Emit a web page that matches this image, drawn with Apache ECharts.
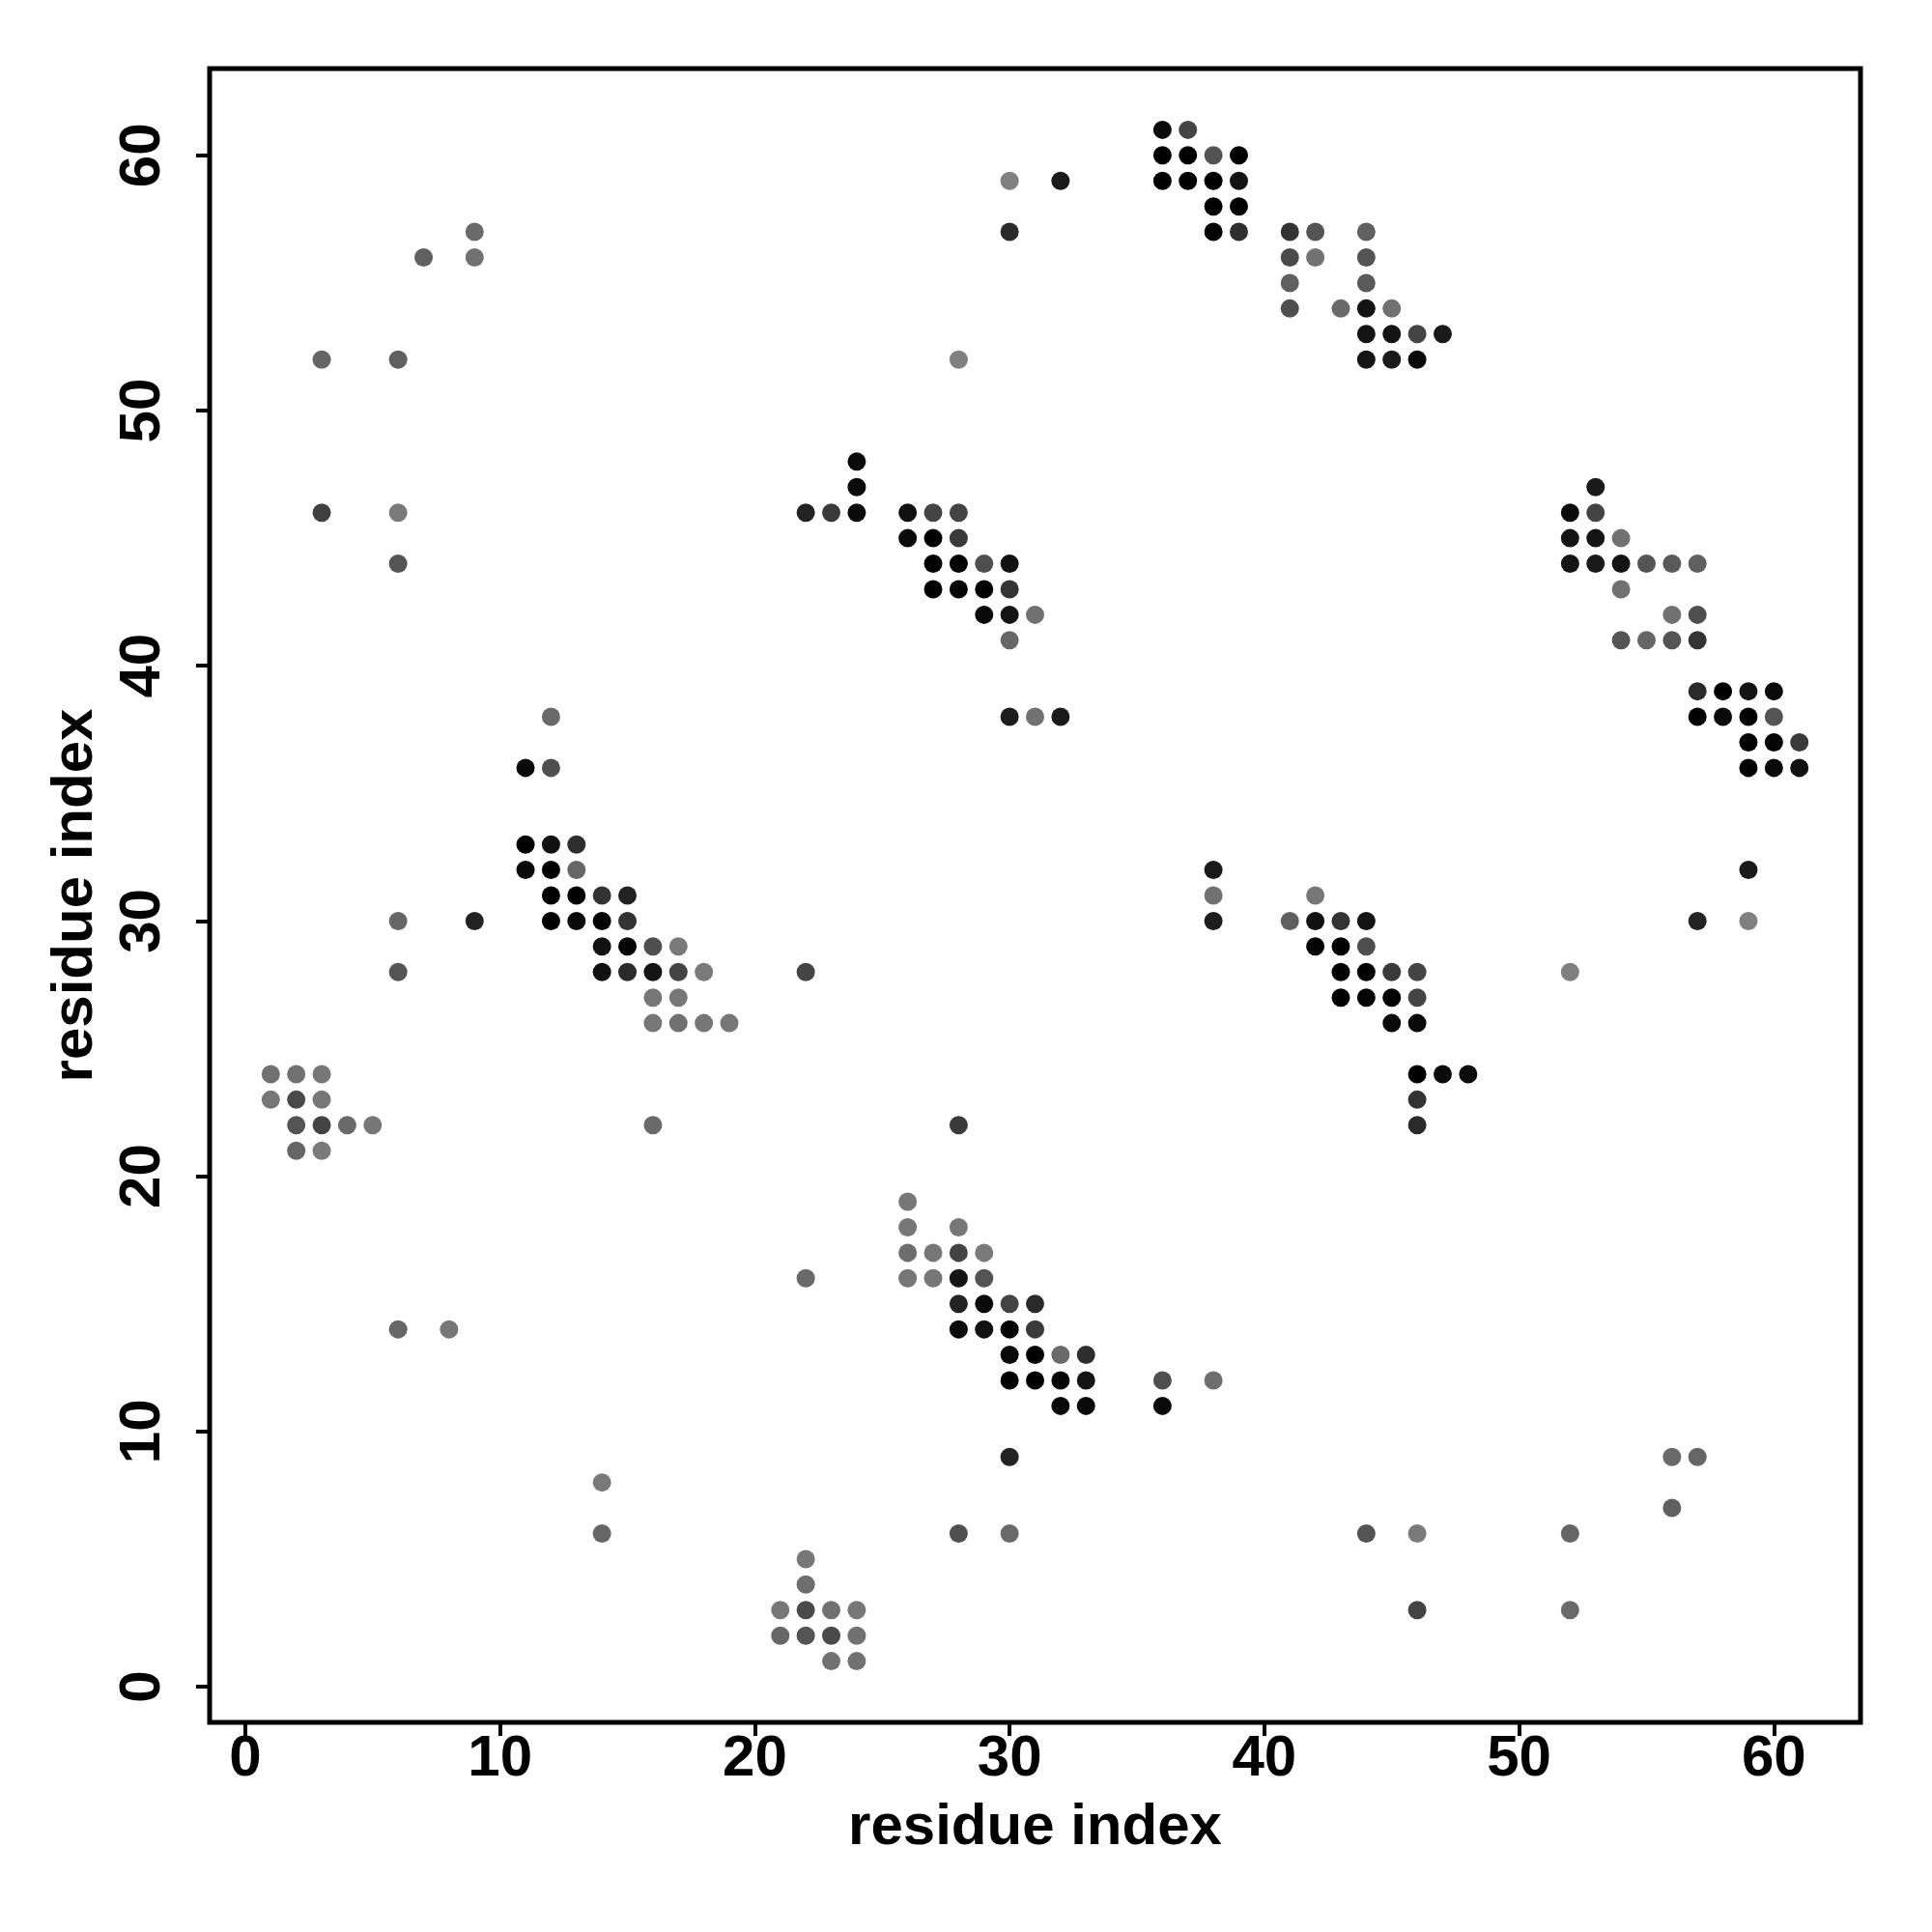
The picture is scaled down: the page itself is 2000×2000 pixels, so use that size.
<!DOCTYPE html>
<html>
<head>
<meta charset="utf-8">
<script src="https://cdn.jsdelivr.net/npm/echarts@6/dist/echarts.min.js"></script>
<style>
html,body{margin:0;padding:0;background:#fff;}
#chart{width:2000px;height:2000px;}
</style>
</head>
<body>
<div id="chart"></div>
<script>
// residue i (x), residue j (y), contact strength (darker = higher)
const resX = [
 36,37,
 36,37,38,39,
 30,32,36,37,38,39,
 38,39,
 9,30,38,39,41,42,44,
 7,9,41,42,44,
 41,44,
 41,43,44,45,
 44,45,46,47,
 3,6,28,44,45,46,
 24,
 24,53,
 3,6,22,23,24,26,27,28,52,53,
 26,27,28,52,53,54,
 6,27,28,29,30,52,53,54,55,56,57,
 27,28,29,30,54,
 29,30,31,56,57,
 30,54,55,56,57,
 57,58,59,60,
 12,30,31,32,57,58,59,60,
 59,60,61,
 11,12,59,60,61,
 11,12,13,
 11,12,13,38,59,
 12,13,14,15,38,42,
 6,9,12,13,14,15,38,41,42,43,44,57,59,
 14,15,16,17,42,43,44,
 6,14,15,16,17,18,22,43,44,45,46,52,
 16,17,43,44,45,46,
 16,17,18,19,45,46,
 1,2,3,46,47,48,
 1,2,3,46,
 2,3,4,5,16,28,46,
 2,3,
 26,
 26,28,
 26,27,28,29,
 22,26,27,28,29,
 28,29,30,31,
 6,8,28,29,30,31,
 30,31,32,33,
 30,31,32,33,36,38,
 32,33,36,
 30,56,57,
 14,
 56,
 14,28,30,44,46,52,
 22,
 22,
 21,22,23,24,46,52,
 21,22,23,24,
 23,24
];
const resY = [
 61,61,
 60,60,60,60,
 59,59,59,59,59,59,
 58,58,
 57,57,57,57,57,57,57,
 56,56,56,56,56,
 55,55,
 54,54,54,54,
 53,53,53,53,
 52,52,52,52,52,52,
 48,
 47,47,
 46,46,46,46,46,46,46,46,46,46,
 45,45,45,45,45,45,
 44,44,44,44,44,44,44,44,44,44,44,
 43,43,43,43,43,
 42,42,42,42,42,
 41,41,41,41,41,
 39,39,39,39,
 38,38,38,38,38,38,38,38,
 37,37,37,
 36,36,36,36,36,
 33,33,33,
 32,32,32,32,32,
 31,31,31,31,31,31,
 30,30,30,30,30,30,30,30,30,30,30,30,30,
 29,29,29,29,29,29,29,
 28,28,28,28,28,28,28,28,28,28,28,28,
 27,27,27,27,27,27,
 26,26,26,26,26,26,
 24,24,24,24,24,24,
 23,23,23,23,
 22,22,22,22,22,22,22,
 21,21,
 19,
 18,18,
 17,17,17,17,
 16,16,16,16,16,
 15,15,15,15,
 14,14,14,14,14,14,
 13,13,13,13,
 12,12,12,12,12,12,
 11,11,11,
 9,9,9,
 8,
 7,
 6,6,6,6,6,6,
 5,
 4,
 3,3,3,3,3,3,
 2,2,2,2,
 1,1
];
const strength = [
 0.92,0.47,
 1.0,1.0,0.34,1.0,
 0.0,0.80,1.0,1.0,1.0,0.84,
 1.0,1.0,
 0.17,0.67,1.0,0.64,0.60,0.34,0.25,
 0.25,0.12,0.42,0.12,0.34,
 0.25,0.30,
 0.38,0.17,0.84,0.12,
 0.84,0.84,0.47,0.80,
 0.21,0.25,0.0,0.84,0.80,0.92,
 0.92,
 0.92,0.80,
 0.50,0.05,0.73,0.55,0.92,0.87,0.47,0.47,0.92,0.47,
 0.92,1.0,0.55,0.84,0.84,0.12,
 0.34,1.0,1.0,0.38,0.87,0.84,0.80,0.84,0.34,0.30,0.25,
 1.0,0.96,1.0,0.60,0.12,
 0.92,0.84,0.12,0.12,0.38,
 0.20,0.34,0.20,0.34,0.60,
 0.67,1.0,0.84,0.92,
 0.17,0.77,0.12,0.80,1.0,0.92,1.0,0.34,
 1.0,0.96,0.55,
 0.92,0.38,1.0,0.92,0.87,
 1.0,0.87,0.64,
 0.92,1.0,0.20,0.80,0.80,
 1.0,1.0,0.60,0.73,0.12,0.07,
 0.20,0.73,1.0,0.92,1.0,0.60,0.77,0.25,0.87,0.60,0.84,0.73,0.0,
 0.87,0.96,0.38,0.05,0.96,1.0,0.38,
 0.34,0.87,0.67,0.84,0.47,0.05,0.47,1.0,1.0,0.55,0.47,0.0,
 0.07,0.07,1.0,0.96,1.0,0.47,
 0.07,0.12,0.07,0.07,0.92,0.92,
 0.12,0.12,0.07,1.0,0.92,0.92,
 0.07,0.42,0.07,0.60,
 0.34,0.47,0.17,0.07,0.17,0.55,0.67,
 0.20,0.05,
 0.07,
 0.07,0.07,
 0.14,0.07,0.47,0.05,
 0.17,0.07,0.07,0.84,0.34,
 0.73,0.92,0.47,0.67,
 0.20,0.07,0.92,0.87,0.96,0.55,
 0.92,1.0,0.17,0.64,
 1.0,1.0,0.96,0.84,0.38,0.14,
 0.92,0.92,0.92,
 0.73,0.17,0.20,
 0.05,
 0.25,
 0.20,0.38,0.17,0.34,0.05,0.20,
 0.07,
 0.14,
 0.07,0.42,0.12,0.07,0.47,0.17,
 0.20,0.34,0.42,0.12,
 0.12,0.12
];
const xTicks = [0, 10, 20, 30, 40, 50, 60];
const yTicks = [0, 10, 20, 30, 40, 50, 60];
const xTitle = 'residue index';
const yTitle = 'residue index';

const points = resX.map((x, i) => [x, resY[i], strength[i]]);

const chart = echarts.init(document.getElementById('chart'), null, {renderer: 'canvas'});
const font = 'Liberation Sans, Arial, Helvetica, sans-serif';
chart.setOption({
  animation: false,
  backgroundColor: '#ffffff',
  grid: {
    left: 217, top: 71, right: 74, bottom: 217,
    show: true, borderColor: '#000', borderWidth: 5, backgroundColor: 'transparent'
  },
  visualMap: {
    show: false, type: 'continuous', dimension: 2, min: 0, max: 1,
    inRange: {color: ['#808080', '#000000']}
  },
  xAxis: {
    type: 'value', min: -1.4, max: 63.4,
    splitLine: {show: false},
    axisLine: {show: false, onZero: false},
    axisTick: {show: true, customValues: xTicks, length: 14, inside: false,
      lineStyle: {color: '#000', width: 4}},
    axisLabel: {customValues: xTicks, fontSize: 60, fontWeight: 'bold', color: '#000',
      fontFamily: font, margin: 8},
    name: xTitle, nameLocation: 'middle', nameGap: 79,
    nameTextStyle: {fontSize: 60, fontWeight: 'bold', color: '#000', fontFamily: font}
  },
  yAxis: {
    type: 'value', min: -1.4, max: 63.4,
    splitLine: {show: false},
    axisLine: {show: false, onZero: false},
    axisTick: {show: true, customValues: yTicks, length: 14, inside: false,
      lineStyle: {color: '#000', width: 4}},
    axisLabel: {customValues: yTicks, fontSize: 60, fontWeight: 'bold', color: '#000',
      fontFamily: font, margin: 39, rotate: 90},
    name: yTitle, nameLocation: 'middle', nameGap: 109,
    nameTextStyle: {fontSize: 60, fontWeight: 'bold', color: '#000', fontFamily: font}
  },
  series: [{
    type: 'scatter',
    data: points,
    symbol: 'circle',
    symbolSize: 19,
    itemStyle: {opacity: 1},
    emphasis: {disabled: true}
  }]
});
</script>
</body>
</html>
